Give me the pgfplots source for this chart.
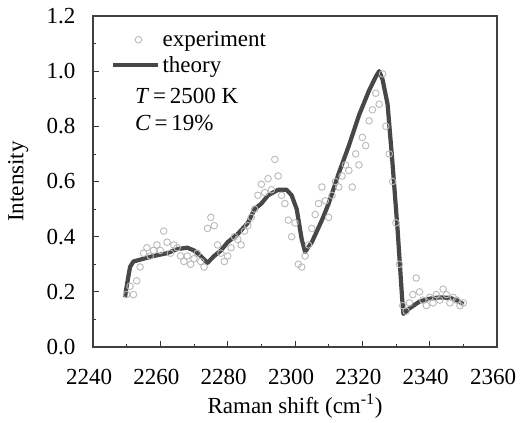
\documentclass[border=0pt]{standalone}
\usepackage{fontspec}
\setmainfont{Liberation Serif}
\usepackage{pgfplots}
\usepackage{pgfplotstable}
\pgfplotsset{compat=1.18}
\pgfplotsset{
  mylineleg/.style={legend image code/.code={\draw[##1] (0pt,0pt) -- (45pt,0pt);}},
  mymarkleg/.style={legend image code/.code={\draw[mark repeat=2,mark phase=2,##1] plot coordinates {(0pt,0pt) (25pt,0pt) (50pt,0pt)};}},
}

\pgfplotstableread{
x y
2250 0.19
2251 0.22
2252 0.19
2253 0.24
2254 0.29
2255 0.34
2256 0.36
2257 0.33
2258 0.35
2259 0.37
2260 0.35
2261 0.42
2262 0.38
2263 0.34
2264 0.37
2265 0.36
2266 0.33
2267 0.31
2268 0.33
2269 0.30
2270 0.32
2271 0.34
2272 0.31
2273 0.29
2274 0.43
2275 0.47
2276 0.44
2277 0.37
2278 0.34
2279 0.31
2280 0.33
2281 0.36
2282 0.40
2283 0.39
2284 0.37
2285 0.42
2286 0.44
2287 0.47
2288 0.50
2289 0.55
2290 0.59
2291 0.56
2292 0.61
2293 0.57
2294 0.68
2295 0.62
2296 0.55
2297 0.52
2298 0.46
2299 0.40
2300 0.45
2301 0.30
2302 0.29
2303 0.33
2304 0.37
2305 0.43
2306 0.48
2307 0.52
2308 0.58
2309 0.53
2310 0.47
2311 0.55
2312 0.60
2313 0.58
2314 0.62
2315 0.66
2316 0.64
2317 0.58
2318 0.70
2319 0.66
2320 0.76
2321 0.73
2322 0.82
2323 0.86
2324 0.92
2325 0.88
2326 0.99
2327 0.80
2328 0.70
2329 0.60
2330 0.45
2331 0.30
2332 0.15
2333 0.13
2334 0.16
2335 0.19
2336 0.25
2337 0.20
2338 0.17
2339 0.15
2340 0.18
2341 0.16
2342 0.19
2343 0.17
2344 0.21
2345 0.19
2346 0.16
2347 0.18
2348 0.17
2349 0.15
2350 0.16
}\expdata

\pgfplotstableread{
x y
2249.5 0.18
2250 0.22
2251 0.29
2252 0.31
2255 0.32
2258 0.33
2262 0.34
2265 0.355
2268 0.36
2270 0.35
2272 0.33
2274 0.305
2276 0.33
2278 0.35
2280 0.38
2283 0.41
2286 0.45
2288 0.50
2290 0.52
2292 0.55
2295 0.57
2297.5 0.57
2299 0.55
2300.5 0.50
2302 0.39
2303 0.345
2305 0.38
2308 0.46
2310 0.52
2313 0.63
2316 0.73
2319 0.84
2322 0.93
2324 0.98
2325 1.0
2326 0.97
2327.5 0.88
2329 0.66
2330.5 0.42
2331.8 0.18
2332.2 0.12
2334 0.14
2337 0.165
2340 0.175
2343 0.18
2346 0.178
2348 0.17
2350 0.155
}\theorydata

\begin{document}
\begin{tikzpicture}[font=\fontsize{23}{27}\selectfont]
\path[use as bounding box] (0,0) rectangle (526pt,422pt);
\begin{axis}[
  at={(93pt,75pt)}, anchor=south west,
  scale only axis, width=404pt, height=331pt,
  xmin=2240, xmax=2360, ymin=0, ymax=1.2,
  xtick={2240,2260,2280,2300,2320,2340,2360},
  ytick={0,0.2,0.4,0.6,0.8,1.0,1.2},
  minor x tick num=1, minor y tick num=1,
  tick align=inside, tick pos=left,
  major tick length=6pt, minor tick length=3pt,
  every tick/.style={black!80, line width=0.8pt},
  axis line style={black!75, line width=1.3pt},
  /pgf/number format/assume math mode=true,
  xticklabel style={/pgf/number format/1000 sep={}, xshift=-4pt, yshift=-19pt},
  yticklabel style={/pgf/number format/fixed, /pgf/number format/fixed zerofill, /pgf/number format/precision=1, xshift=-14pt},
  xlabel={Raman shift (cm\textsuperscript{-1})},
  ylabel={Intensity},
  xlabel style={at={(axis description cs:0.5,-0.178)}, anchor=center},
  ylabel style={at={(axis description cs:-0.185,0.5)}, anchor=center},
  legend style={draw=none, fill=none, at={(rel axis cs:0.045,0.96)}, anchor=north west, inner sep=0pt, row sep=4pt,
    font=\fontsize{23}{27}\selectfont, nodes={inner sep=2pt, xshift=4pt}},
  legend cell align=left,
]
\addplot[only marks, mark=o, mark size=3.3pt, gray!55, line width=0.9pt, mymarkleg]
  table[x=x,y=y]{\expdata};
\addlegendentry{experiment}
\addplot[black!72, line width=4.2pt, line join=round, mylineleg]
  table[x=x,y=y]{\theorydata};
\addlegendentry{theory}
\node[anchor=west, inner sep=0pt] at (rel axis cs:0.104,0.758) {\textit{T}\,=\,2500 K};
\node[anchor=west, inner sep=0pt] at (rel axis cs:0.104,0.677) {\textit{C}\,=\,19\%};
\end{axis}
\end{tikzpicture}
\end{document}
